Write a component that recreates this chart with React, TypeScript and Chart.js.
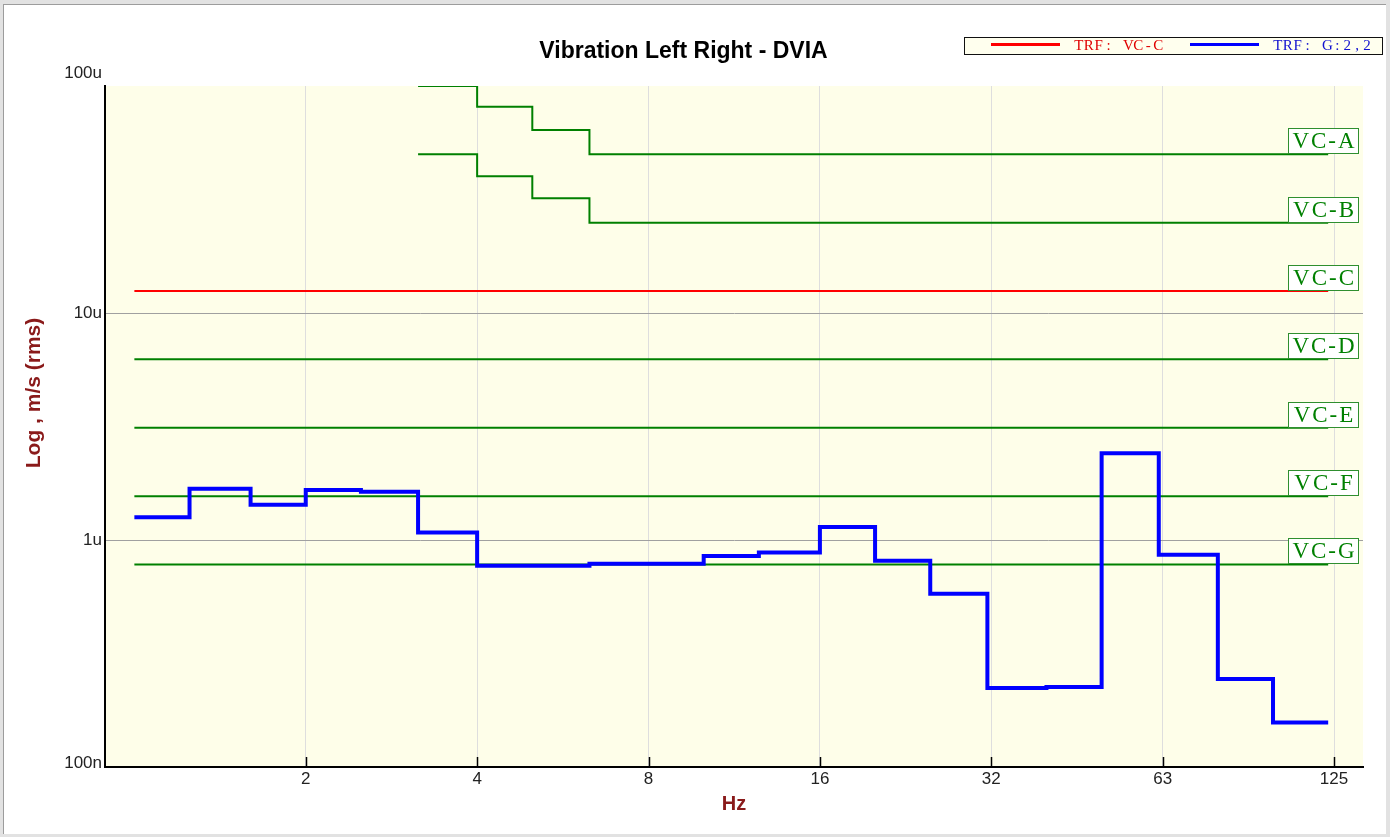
import React, { useEffect, useRef } from 'react';
import { Chart, registerables } from 'chart.js';

Chart.register(...registerables);

// third-octave bands, Hz (last entry closes the final band)
const bandHz = [1, 1.25, 1.6, 2, 2.5, 3.15, 4, 5, 6.3, 8, 10, 12.5, 16, 20, 25, 31.5, 40, 50, 63, 80, 100, 125];
// measured velocity per band, um/s rms
const measuredUms = [
  1.26, 1.68, 1.43, 1.66, 1.63, 1.08, 0.77, 0.77, 0.785, 0.785, 0.85,
  0.88, 1.14, 0.81, 0.58, 0.223, 0.225, 2.41, 0.86, 0.244, 0.157,
];

// vibration criteria, um/s
const vcStepHz = [3.15, 4, 5, 6.3, 125];
const vcAUms = [100, 81, 64, 50];
const vcBUms = [50, 40, 32, 25];
const flatHz = [1, 125];
const vcCUms = [12.5];
const vcDUms = [6.25];
const vcEUms = [3.12];
const vcFUms = [1.56];
const vcGUms = [0.78];

const xTickHz = [2, 4, 8, 16, 32, 64, 128];
const xTickLabels = ['2', '4', '8', '16', '32', '63', '125'];
const yTickValues = [1e-7, 1e-6, 1e-5, 1e-4];
const yTickLabels = ['100n', '1u', '10u', '100u'];
const legendOrder = ['TRF: VC-C', 'TRF: G:2,2'];

const GREEN = '#008000';
const DARK_RED = '#8a1a1a';
const SANS = '"Liberation Sans", Arial, sans-serif';
const SERIF = '"Liberation Serif", "Times New Roman", serif';

// step series: value i holds from hz[i] to hz[i + 1]
const steps = (hz: number[], ums: number[]) =>
  hz.map((x, i) => ({ x, y: ums[Math.min(i, ums.length - 1)] * 1e-6 }));

// draw text on a fixed character grid (monospace look)
function drawMono(ctx: CanvasRenderingContext2D, text: string, x: number, y: number, cell: number) {
  Array.from(text).forEach((ch, i) => ctx.fillText(ch, x + cell * (i + 0.5), y));
}

const decorPlugin = {
  id: 'decor',
  beforeDraw(chart: any) {
    const { ctx, chartArea: a } = chart;
    ctx.save();
    ctx.fillStyle = '#fefee9';
    ctx.fillRect(a.left, a.top, a.right - a.left, a.bottom - a.top);
    ctx.restore();
  },
  afterDraw(chart: any) {
    const { ctx, chartArea: a, scales } = chart;
    ctx.save();

    // inward tick marks on the frequency axis
    ctx.strokeStyle = '#000';
    ctx.lineWidth = 1.5;
    xTickHz.forEach((v) => {
      const px = Math.round(scales.x.getPixelForValue(v)) + 0.5;
      ctx.beginPath();
      ctx.moveTo(px, a.bottom);
      ctx.lineTo(px, a.bottom - 10);
      ctx.stroke();
    });

    // y tick labels
    ctx.fillStyle = '#222';
    ctx.font = `17px ${SANS}`;
    ctx.textAlign = 'right';
    yTickValues.forEach((v, i) => {
      const py = scales.y.getPixelForValue(v);
      if (i === 0) {
        ctx.textBaseline = 'alphabetic';
        ctx.fillText(yTickLabels[i], a.left - 3, py + 1);
      } else if (i === yTickValues.length - 1) {
        ctx.textBaseline = 'alphabetic';
        ctx.fillText(yTickLabels[i], a.left - 3, py - 8);
      } else {
        ctx.textBaseline = 'middle';
        ctx.fillText(yTickLabels[i], a.left - 3, py);
      }
    });

    // y axis title
    ctx.save();
    ctx.translate(30, 388);
    ctx.rotate(-Math.PI / 2);
    ctx.textAlign = 'center';
    ctx.textBaseline = 'middle';
    ctx.fillStyle = DARK_RED;
    ctx.font = `bold 21px ${SANS}`;
    ctx.fillText('Log , m/s (rms)', 0, 0);
    ctx.restore();

    // criterion tags at the right end of each line
    ctx.save();
    ctx.font = `23px ${SERIF}`;
    ctx.textAlign = 'center';
    ctx.textBaseline = 'alphabetic';
    (ctx as any).letterSpacing = '2px';
    chart.data.datasets.forEach((ds: any) => {
      if (!ds.tag) return;
      const last = ds.data[ds.data.length - 1];
      const ly = scales.y.getPixelForValue(last.y);
      const bx = 1284;
      const by = Math.round(ly) - 26;
      ctx.fillStyle = '#ffffff';
      ctx.fillRect(bx, by, 71, 25);
      ctx.strokeStyle = '#2f8f2f';
      ctx.lineWidth = 1;
      ctx.strokeRect(bx + 0.5, by + 0.5, 70, 25);
      ctx.fillStyle = GREEN;
      ctx.fillText(ds.tag, bx + 36.5, by + 20);
    });
    ctx.restore();

    // legend
    ctx.fillStyle = '#ffffee';
    ctx.fillRect(960, 32, 418, 17);
    ctx.strokeStyle = '#111';
    ctx.lineWidth = 1;
    ctx.strokeRect(960.5, 32.5, 418, 17);
    ctx.font = `15px ${SERIF}`;
    ctx.textAlign = 'center';
    ctx.textBaseline = 'alphabetic';
    legendOrder.forEach((name, i) => {
      const ds = chart.data.datasets.find((d: any) => d.label === name);
      if (!ds) return;
      const x0 = 987 + i * 199;
      ctx.strokeStyle = ds.borderColor;
      ctx.lineWidth = 3;
      ctx.beginPath();
      ctx.moveTo(x0, 39.5);
      ctx.lineTo(x0 + 69, 39.5);
      ctx.stroke();
      ctx.fillStyle = ds.legendText;
      drawMono(ctx, ds.label, x0 + 83, 45, 9.9);
    });

    ctx.restore();
  },
};

export default function App() {
  const canvasRef = useRef<HTMLCanvasElement>(null);
  const chartRef = useRef<Chart | null>(null);

  useEffect(() => {
    if (!canvasRef.current) return;
    if (chartRef.current) chartRef.current.destroy();

    const greenLine = (tag: string, hz: number[], ums: number[]) => ({
      label: tag,
      tag,
      data: steps(hz, ums),
      borderColor: GREEN,
      borderWidth: 2,
    });

    const config: any = {
      type: 'line',
      data: {
        datasets: [
          {
            label: 'TRF: G:2,2',
            legendText: '#1010d0',
            data: steps(bandHz, measuredUms),
            borderColor: '#0000ff',
            borderWidth: 4,
          },
          {
            label: 'TRF: VC-C',
            tag: 'VC-C',
            legendText: '#e00000',
            data: steps(flatHz, vcCUms),
            borderColor: '#ff0000',
            borderWidth: 2,
          },
          greenLine('VC-A', vcStepHz, vcAUms),
          greenLine('VC-B', vcStepHz, vcBUms),
          greenLine('VC-D', flatHz, vcDUms),
          greenLine('VC-E', flatHz, vcEUms),
          greenLine('VC-F', flatHz, vcFUms),
          greenLine('VC-G', flatHz, vcGUms),
        ],
      },
      options: {
        animation: false,
        responsive: false,
        devicePixelRatio: 1,
        events: [],
        parsing: false,
        datasets: {
          line: {
            stepped: 'before',
            pointRadius: 0,
            fill: false,
            borderJoinStyle: 'miter',
            borderCapStyle: 'butt',
          },
        },
        layout: { padding: { top: 0, right: 23, bottom: 0, left: 0 } },
        plugins: {
          legend: { display: false },
          tooltip: { enabled: false },
          title: {
            display: true,
            text: 'Vibration Left Right - DVIA',
            color: '#000',
            font: { family: SANS, size: 23, weight: 'bold' },
            padding: { top: 33, bottom: 20.4 },
          },
        },
        scales: {
          x: {
            type: 'logarithmic',
            min: 0.888,
            max: 143.9,
            afterBuildTicks: (scale: any) => {
              scale.ticks = xTickHz.map((value) => ({ value }));
            },
            afterFit: (scale: any) => {
              scale.height = 67;
            },
            ticks: {
              autoSkip: false,
              maxRotation: 0,
              padding: 2,
              color: '#222',
              font: { family: SANS, size: 17 },
              callback: (_v: any, i: number) => xTickLabels[i],
            },
            grid: { color: '#dedede', lineWidth: 1, drawTicks: false },
            border: { display: true, color: '#000', width: 2 },
            title: {
              display: true,
              text: 'Hz',
              color: DARK_RED,
              font: { family: SANS, size: 20, weight: 'bold' },
              padding: { top: 0, bottom: 18 },
            },
          },
          y: {
            type: 'logarithmic',
            min: 1e-7,
            max: 1e-4,
            afterBuildTicks: (scale: any) => {
              scale.ticks = yTickValues.map((value) => ({ value }));
            },
            afterFit: (scale: any) => {
              scale.width = 101;
            },
            ticks: { display: false },
            grid: {
              drawTicks: false,
              lineWidth: 1,
              color: (c: any) =>
                c.tick && (c.tick.value === 1e-6 || c.tick.value === 1e-5) ? '#a0a0a0' : 'rgba(0,0,0,0)',
            },
            border: { display: true, color: '#000', width: 2 },
          },
        },
      },
      plugins: [decorPlugin],
    };

    chartRef.current = new Chart(canvasRef.current, config);

    return () => {
      if (chartRef.current) {
        chartRef.current.destroy();
        chartRef.current = null;
      }
    };
  }, []);

  return (
    <div style={{ position: 'fixed', left: 0, top: 0, width: 1390, height: 837, background: '#e2e2e2' }}>
      <div
        style={{
          position: 'absolute',
          left: 3,
          top: 4,
          width: 1382,
          height: 829,
          background: '#fff',
          borderLeft: '1px solid #9c9c9c',
          borderTop: '1px solid #9c9c9c',
        }}
      >
        <canvas ref={canvasRef} width={1382} height={829} style={{ display: 'block' }} />
      </div>
    </div>
  );
}
